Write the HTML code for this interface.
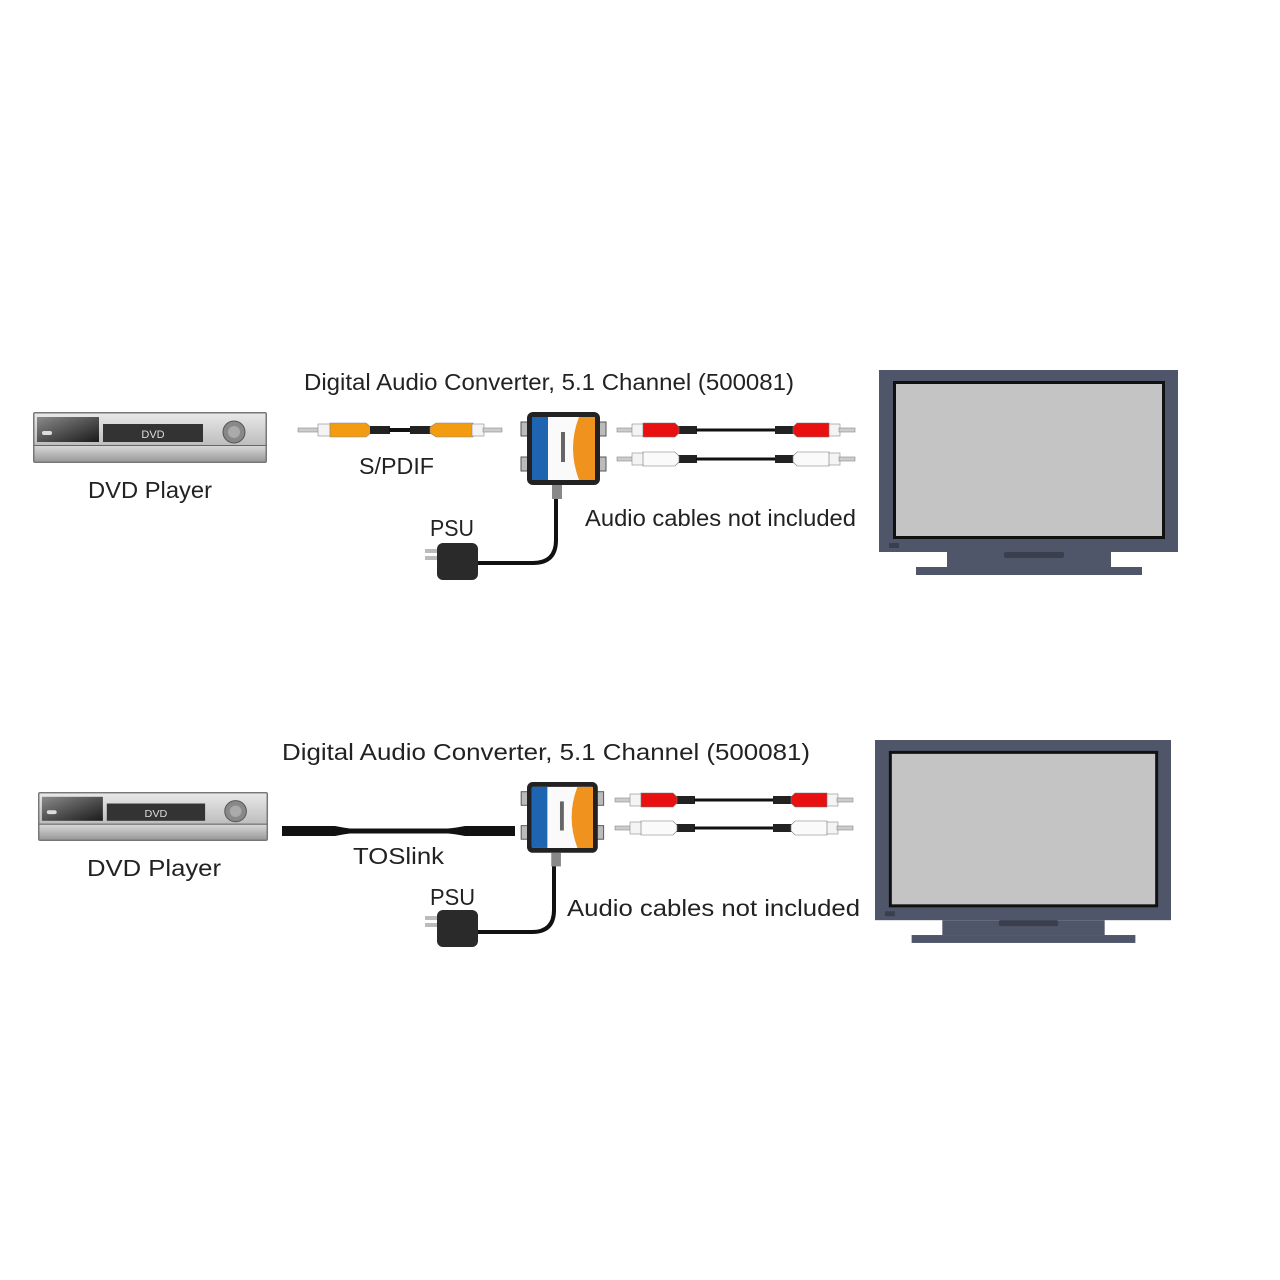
<!DOCTYPE html>
<html><head><meta charset="utf-8"><style>
html,body{margin:0;padding:0;background:#fff;}
svg{display:block;}
text{font-family:"Liberation Sans",sans-serif;fill:#222;}
</style></head><body>
<svg width="1280" height="1280" viewBox="0 0 1280 1280" xmlns="http://www.w3.org/2000/svg">
<defs>
<linearGradient id="gTop" x1="0" y1="0" x2="0" y2="1"><stop offset="0" stop-color="#e8e8e8"/><stop offset="1" stop-color="#bdbdbd"/></linearGradient>
<linearGradient id="gBot" x1="0" y1="0" x2="0" y2="1"><stop offset="0" stop-color="#d8d8d8"/><stop offset="1" stop-color="#9a9a9a"/></linearGradient>
<linearGradient id="gDoor" x1="0" y1="0" x2="1" y2="1"><stop offset="0" stop-color="#8a8a8a"/><stop offset="1" stop-color="#1a1a1a"/></linearGradient>
<g id="dvd">
  <rect x="0" y="0" width="234" height="51" rx="2" fill="#777"/>
  <rect x="1.5" y="1.5" width="231" height="32" fill="url(#gTop)"/>
  <rect x="4" y="5" width="62" height="25" fill="url(#gDoor)"/>
  <rect x="9" y="19" width="10" height="4" rx="2" fill="#ddd"/>
  <rect x="70" y="12" width="100" height="18" fill="#333"/>
  <text x="120" y="26" font-size="11" text-anchor="middle" style="fill:#ddd">DVD</text>
  <circle cx="201" cy="20" r="11" fill="#888" stroke="#555"/>
  <circle cx="201" cy="20" r="6" fill="#aaa"/>
  <rect x="1.5" y="34" width="231" height="15.5" fill="url(#gBot)"/>
  <line x1="1" y1="33.5" x2="233" y2="33.5" stroke="#666"/>
</g>
<g id="tv">
  <rect x="0" y="0" width="299" height="182" fill="#50566a"/>
  <rect x="14" y="11" width="272" height="158" fill="#111"/>
  <rect x="17" y="14" width="266" height="152" fill="#c4c4c4"/>
  <rect x="10" y="173" width="10" height="5" fill="#3a3f4e"/>
  <rect x="68" y="182" width="164" height="15" fill="#50566a"/>
  <rect x="37" y="197" width="226" height="8" fill="#50566a"/>
  <rect x="125" y="182" width="60" height="6" rx="2" fill="#3a3f4e"/>
</g>
<g id="conv">
  <rect x="-6" y="10" width="8" height="14" fill="#bbb" stroke="#555"/>
  <rect x="-6" y="45" width="8" height="14" fill="#bbb" stroke="#555"/>
  <rect x="71" y="10" width="8" height="14" fill="#bbb" stroke="#555"/>
  <rect x="71" y="45" width="8" height="14" fill="#bbb" stroke="#555"/>
  <rect x="25" y="73" width="10" height="14" fill="#888"/>
  <rect x="0" y="0" width="73" height="73" rx="6" fill="#222"/>
  <rect x="5" y="5" width="63" height="63" rx="2" fill="#fafafa"/>
  <rect x="5" y="5" width="16" height="63" fill="#1f64b0"/>
  <path d="M52 5 H68 V68 H52 Q40 36 52 5Z" fill="#f0921e"/>
  <rect x="34" y="20" width="4" height="30" fill="#666"/>
</g>
<g id="rca">
  <rect x="0" y="-2" width="16" height="4" fill="#ccc" stroke="#888" stroke-width="0.6"/>
  <rect x="15" y="-6" width="12" height="12" fill="#f4f4f4" stroke="#888" stroke-width="0.6"/>
  <rect x="61" y="-4" width="19" height="8" fill="#222"/>
  <rect x="79" y="-1.5" width="80" height="3" fill="#111"/>
  <rect x="158" y="-4" width="19" height="8" fill="#222"/>
  <rect x="211" y="-6" width="12" height="12" fill="#f4f4f4" stroke="#888" stroke-width="0.6"/>
  <rect x="222" y="-2" width="16" height="4" fill="#ccc" stroke="#888" stroke-width="0.6"/>
</g>
<g id="psu">
  <rect x="-12" y="6" width="13" height="4" fill="#bbb"/>
  <rect x="-12" y="13" width="13" height="4" fill="#bbb"/>
  <rect x="0" y="0" width="41" height="37" rx="6" fill="#2a2a2a"/>
</g>
</defs>

<!-- TOP ROW -->
<use href="#dvd" x="33" y="412"/>
<text x="88" y="498" font-size="23" textLength="124" lengthAdjust="spacingAndGlyphs">DVD Player</text>
<text x="304" y="390" font-size="23" textLength="490" lengthAdjust="spacingAndGlyphs">Digital Audio Converter, 5.1 Channel (500081)</text>
<g transform="translate(0,430)">
  <rect x="298" y="-2" width="21" height="4" fill="#ccc" stroke="#888" stroke-width="0.6"/>
  <rect x="318" y="-6" width="12" height="12" fill="#f4f4f4" stroke="#888" stroke-width="0.6"/>
  <path d="M330 -7 H366 L371 -3 V3 L366 7 H330Z" fill="#f39c12" stroke="#888" stroke-width="0.6"/>
  <rect x="370" y="-4" width="20" height="8" fill="#222"/>
  <rect x="389" y="-2" width="22" height="4" fill="#111"/>
  <rect x="410" y="-4" width="21" height="8" fill="#222"/>
  <path d="M473 -7 H436 L430 -3 V3 L436 7 H473Z" fill="#f39c12" stroke="#888" stroke-width="0.6"/>
  <rect x="472" y="-6" width="12" height="12" fill="#f4f4f4" stroke="#888" stroke-width="0.6"/>
  <rect x="483" y="-2" width="19" height="4" fill="#ccc" stroke="#888" stroke-width="0.6"/>
</g>
<text x="359" y="474" font-size="23" textLength="75" lengthAdjust="spacingAndGlyphs">S/PDIF</text>
<path d="M556 498 V540 Q556 563 533 563 H478" fill="none" stroke="#111" stroke-width="4"/>
<use href="#conv" x="527" y="412"/>
<use href="#rca" x="617" y="430"/>
<g transform="translate(617,430)"><path d="M26 -7 H58 L62 -3 V3 L58 7 H26Z" fill="#e81010" stroke="#777" stroke-width="0.6"/><path d="M212 -7 H180 L176 -3 V3 L180 7 H212Z" fill="#e81010" stroke="#777" stroke-width="0.6"/></g>
<use href="#rca" x="617" y="459"/>
<g transform="translate(617,459)"><path d="M26 -7 H58 L62 -3 V3 L58 7 H26Z" fill="#fafafa" stroke="#777" stroke-width="0.6"/><path d="M212 -7 H180 L176 -3 V3 L180 7 H212Z" fill="#fafafa" stroke="#777" stroke-width="0.6"/></g>
<text x="585" y="526" font-size="23" textLength="271" lengthAdjust="spacingAndGlyphs">Audio cables not included</text>
<text x="430" y="536" font-size="23" textLength="44" lengthAdjust="spacingAndGlyphs">PSU</text>
<use href="#psu" x="437" y="543"/>
<use href="#tv" x="879" y="370"/>

<!-- BOTTOM ROW -->
<use href="#dvd" transform="translate(38,792) scale(0.983,0.96)"/>
<text x="87" y="876" font-size="23" textLength="134" lengthAdjust="spacingAndGlyphs">DVD Player</text>
<text x="282" y="760" font-size="23" textLength="528" lengthAdjust="spacingAndGlyphs">Digital Audio Converter, 5.1 Channel (500081)</text>
<path d="M282 826 H335 Q345 828 350 828.5 H448 Q455 828 465 826 H515 V836 H465 Q455 834 448 833.5 H350 Q345 834 335 836 H282Z" fill="#111"/>
<text x="353" y="864" font-size="23" textLength="91" lengthAdjust="spacingAndGlyphs">TOSlink</text>
<path d="M554 866 V910 Q554 932 532 932 H478" fill="none" stroke="#111" stroke-width="4"/>
<use href="#conv" transform="translate(527,782) scale(0.97,0.97)"/>
<use href="#rca" x="615" y="800"/>
<g transform="translate(615,800)"><path d="M26 -7 H58 L62 -3 V3 L58 7 H26Z" fill="#e81010" stroke="#777" stroke-width="0.6"/><path d="M212 -7 H180 L176 -3 V3 L180 7 H212Z" fill="#e81010" stroke="#777" stroke-width="0.6"/></g>
<use href="#rca" x="615" y="828"/>
<g transform="translate(615,828)"><path d="M26 -7 H58 L62 -3 V3 L58 7 H26Z" fill="#fafafa" stroke="#777" stroke-width="0.6"/><path d="M212 -7 H180 L176 -3 V3 L180 7 H212Z" fill="#fafafa" stroke="#777" stroke-width="0.6"/></g>
<text x="567" y="916" font-size="23" textLength="293" lengthAdjust="spacingAndGlyphs">Audio cables not included</text>
<text x="430" y="905" font-size="23" textLength="45" lengthAdjust="spacingAndGlyphs">PSU</text>
<use href="#psu" x="437" y="910"/>
<use href="#tv" transform="translate(875,740) scale(0.99,0.99)"/>
</svg>
</body></html>
